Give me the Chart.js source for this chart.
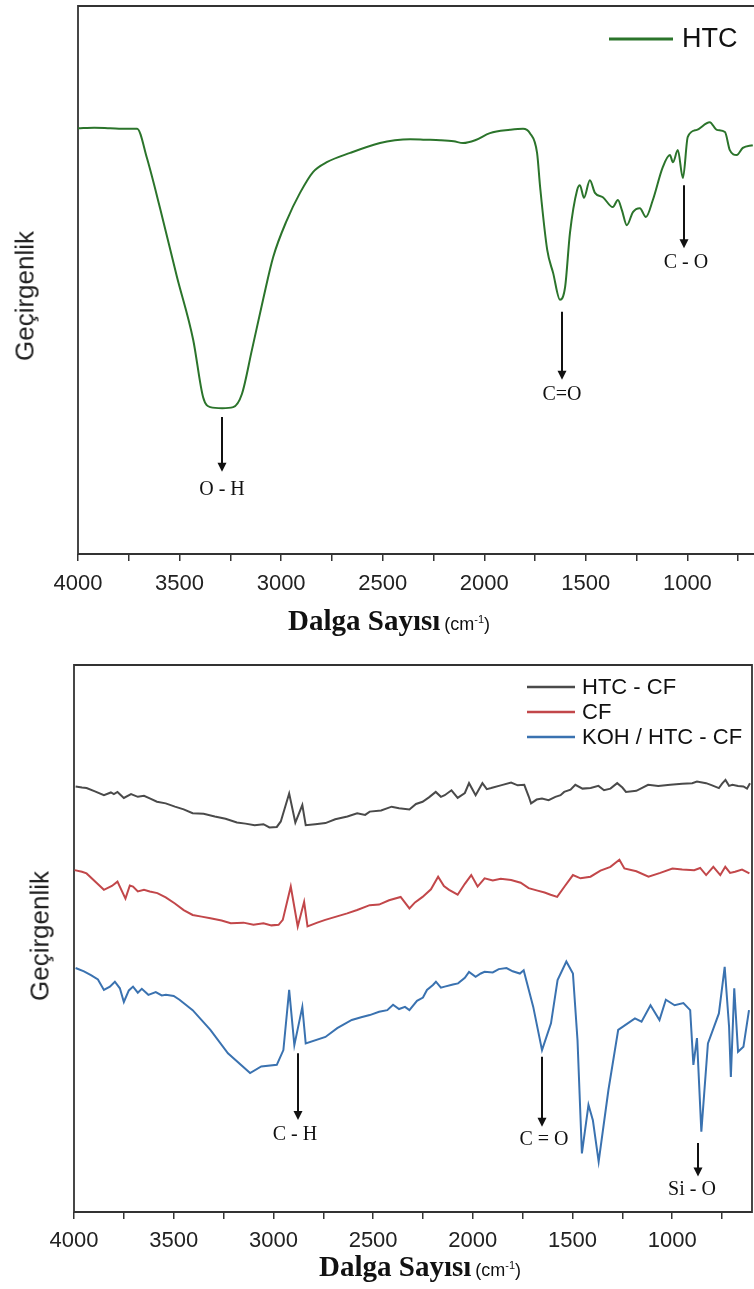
<!DOCTYPE html>
<html>
<head>
<meta charset="utf-8">
<title>FTIR</title>
<script src="https://cdn.jsdelivr.net/npm/chart.js@4.4.1/dist/chart.umd.min.js"></script>
<style>
  body { margin: 0; background: #fff; width: 754px; height: 1289px; position: relative; overflow: hidden; }
  .box { position: absolute; left: 0; width: 754px; }
  canvas { display: block; }
  .ytitle { position: absolute; font-family: "Liberation Sans", Arial, sans-serif; font-size: 26px; color: #222;
            white-space: nowrap; transform: translate(-50%, -50%) rotate(-90deg); }
  .xtitle { position: absolute; white-space: nowrap; color: #111; line-height: 29px; }
  .xtitle b { font-family: "Liberation Serif", "Times New Roman", serif; font-size: 29px; }
  .xtitle span { font-family: "Liberation Sans", Arial, sans-serif; font-size: 18px; margin-left: 4px; }
  .xtitle sup { font-size: 11px; }
</style>
</head>
<body>
<div class="box" style="top:0;height:640px"><canvas id="ftirHtc" width="754" height="640"></canvas></div>
<div class="box" style="top:640px;height:649px"><canvas id="ftirCf" width="754" height="649"></canvas></div>
<div class="ytitle" style="left:25px;top:296px">Geçirgenlik</div>
<div class="ytitle" style="left:40px;top:936px">Geçirgenlik</div>
<div class="xtitle" style="left:288px;top:605px"><b>Dalga Sayısı</b><span>(cm<sup>-1</sup>)</span></div>
<div class="xtitle" style="left:319px;top:1251px"><b>Dalga Sayısı</b><span>(cm<sup>-1</sup>)</span></div>
<script>
// wavenumber ticks (cm-1); only the 500 steps get a label
const tickWn = [750, 1000, 1250, 1500, 1750, 2000, 2250, 2500, 2750, 3000, 3250, 3500, 3750, 4000];

// HTC spectrum (transmittance, a.u.)
const wnHTC = [4000, 3920, 3842, 3760, 3709, 3661, 3596, 3513, 3433, 3384, 3349, 3290, 3236, 3193, 3144, 3089, 3039, 2972, 2907, 2843,
  2775, 2660, 2513, 2440, 2365, 2290, 2217, 2150, 2104, 2045, 1972, 1873, 1809, 1775, 1740, 1725, 1690, 1661, 1627, 1602,
  1578, 1543, 1529, 1509, 1480, 1455, 1416, 1367, 1342, 1322, 1298, 1268, 1234, 1204, 1170, 1121, 1086, 1071, 1047, 1022,
  998, 953, 890, 855, 815, 791, 757, 727, 678];
const tHTC = [77.7, 77.8, 77.7, 77.6, 77.6, 72.3, 63.1, 50.6, 39.1, 28.6, 26.8, 26.6, 26.8, 29.2, 37.2, 46.4, 54.2, 60.9, 65.9, 69.7,
  71.5, 73.2, 75.0, 75.5, 75.7, 75.6, 75.5, 75.3, 75.0, 75.5, 76.8, 77.4, 77.6, 76.8, 73.2, 67.0, 55.5, 51.3, 46.4, 48.7,
  58.6, 66.4, 67.3, 65.0, 68.2, 65.9, 65.1, 63.3, 64.6, 62.7, 60.0, 62.4, 63.1, 61.5, 64.6, 70.6, 72.8, 71.5, 73.7, 68.6,
  76.1, 77.4, 78.8, 77.4, 77.0, 73.7, 72.8, 74.1, 74.6];

// HTC - CF
const wnHTCCF = [3992, 3960, 3937, 3895, 3850, 3815, 3800, 3782, 3750, 3714, 3680, 3649, 3620, 3584, 3540, 3494, 3450, 3405, 3350, 3294,
  3240, 3183, 3140, 3094, 3050, 3020, 2983, 2963, 2921, 2890, 2855, 2838, 2790, 2739, 2690, 2629, 2580, 2540, 2517, 2460,
  2407, 2370, 2318, 2285, 2252, 2220, 2186, 2160, 2141, 2107, 2076, 2040, 2019, 1986, 1952, 1930, 1908, 1860, 1808, 1775,
  1742, 1720, 1708, 1680, 1653, 1620, 1586, 1560, 1542, 1510, 1486, 1450, 1409, 1370, 1342, 1310, 1276, 1250, 1232, 1180,
  1121, 1070, 1010, 950, 900, 876, 830, 800, 766, 750, 733, 715, 698, 670, 643, 625, 610];
const tHTCCF = [77.8, 77.6, 77.5, 76.9, 76.2, 76.7, 76.4, 76.8, 75.7, 76.4, 75.9, 76.1, 75.6, 75.0, 74.7, 74.1, 73.6, 72.9, 72.8, 72.3,
  71.9, 71.2, 71.0, 70.7, 70.9, 70.3, 70.4, 71.4, 76.5, 71.2, 74.4, 70.7, 70.9, 71.1, 71.8, 72.3, 72.9, 72.6, 73.2, 73.4,
  74.1, 73.8, 73.6, 74.6, 75.0, 75.8, 76.8, 75.9, 76.2, 77.1, 75.7, 76.6, 78.4, 76.2, 78.4, 77.3, 77.5, 78.0, 78.5, 78.0,
  78.1, 76.0, 74.7, 75.4, 75.6, 75.3, 75.9, 76.2, 76.8, 77.2, 78.1, 77.4, 77.5, 77.9, 77.1, 77.4, 78.4, 77.6, 76.8, 77.0,
  78.1, 77.9, 78.1, 78.3, 78.4, 78.7, 78.4, 78.0, 77.5, 78.3, 79.0, 77.9, 78.1, 77.9, 77.8, 77.4, 78.4];

// CF
const wnCF = [3997, 3960, 3937, 3890, 3850, 3810, 3782, 3742, 3720, 3704, 3680, 3649, 3620, 3582, 3540, 3494, 3450, 3405, 3360, 3316,
  3260, 3214, 3150, 3100, 3050, 3010, 2974, 2953, 2913, 2878, 2846, 2829, 2780, 2740, 2685, 2630, 2580, 2517, 2470, 2420,
  2362, 2318, 2290, 2252, 2210, 2174, 2145, 2119, 2076, 2040, 2008, 1976, 1941, 1900, 1860, 1808, 1760, 1720, 1680, 1640,
  1610, 1577, 1540, 1498, 1460, 1410, 1360, 1310, 1265, 1240, 1180, 1119, 1060, 999, 950, 890, 860, 830, 794, 759,
  734, 710, 685, 650, 613];
const tCF = [62.5, 62.2, 61.9, 60.3, 58.9, 59.6, 60.4, 57.3, 59.7, 59.5, 58.6, 58.9, 58.6, 58.3, 57.5, 56.4, 55.2, 54.3, 54.0, 53.7,
  53.3, 52.8, 52.9, 52.5, 52.8, 52.4, 52.5, 53.4, 59.5, 52.2, 56.7, 52.2, 52.9, 53.4, 54.0, 54.6, 55.2, 56.1, 56.2, 57.0,
  57.6, 55.5, 56.6, 57.6, 59.0, 61.3, 59.6, 58.9, 58.0, 60.0, 61.6, 59.5, 61.0, 60.6, 60.9, 60.7, 60.2, 59.2, 58.8, 58.4,
  58.0, 57.6, 59.5, 61.6, 61.0, 61.3, 62.4, 63.1, 64.4, 62.8, 62.3, 61.3, 62.0, 62.8, 62.6, 62.5, 62.9, 61.6, 63.1, 61.6,
  63.1, 62.0, 62.2, 62.6, 61.9];

// KOH / HTC - CF
const wnKOH = [3992, 3950, 3915, 3880, 3850, 3820, 3795, 3770, 3750, 3725, 3704, 3680, 3660, 3627, 3590, 3560, 3539, 3500, 3471, 3405,
  3316, 3228, 3117, 3061, 2983, 2950, 2921, 2895, 2855, 2838, 2739, 2680, 2607, 2560, 2517, 2470, 2429, 2400, 2370, 2340,
  2318, 2280, 2250, 2230, 2200, 2185, 2160, 2141, 2100, 2074, 2040, 2019, 1986, 1960, 1941, 1900, 1870, 1831, 1800, 1764,
  1745, 1730, 1697, 1653, 1608, 1575, 1531, 1498, 1475, 1453, 1420, 1398, 1369, 1320, 1271, 1187, 1154, 1109, 1064, 1032,
  988, 944, 910, 894, 876, 854, 821, 766, 737, 715, 706, 689, 670, 643, 615];
const tKOH = [44.6, 44.0, 43.3, 42.5, 40.6, 41.2, 42.1, 40.9, 38.4, 40.5, 41.2, 40.1, 40.8, 39.7, 40.2, 39.6, 39.7, 39.5, 38.8, 36.9,
  33.3, 29.0, 25.4, 26.6, 26.9, 29.6, 40.6, 30.5, 37.5, 30.8, 32.0, 33.6, 35.1, 35.6, 36.0, 36.6, 36.9, 37.9, 37.1, 37.5,
  36.9, 38.6, 39.2, 40.6, 41.5, 42.1, 41.0, 41.2, 41.6, 41.8, 42.8, 43.9, 43.0, 43.6, 43.9, 43.8, 44.4, 44.6, 44.0, 43.6,
  44.2, 42.1, 37.5, 29.6, 34.5, 42.4, 45.8, 43.6, 31.4, 10.7, 19.6, 16.8, 9.2, 22.3, 33.3, 35.4, 34.8, 37.8, 35.1, 38.8,
  37.8, 38.2, 36.9, 26.9, 31.8, 14.7, 30.8, 36.3, 44.8, 33.9, 24.7, 40.9, 29.3, 30.2, 36.9];

// band assignments: arrow from -> to (transmittance), label centred at labelAt
const bandsHTC = [
  { wn: 3290, from: 25.0, to: 15.0, labelAt: 11.7, text: 'O - H', dx: 0 },
  { wn: 1615, from: 44.2, to: 31.8, labelAt: 29.0, text: 'C=O', dx: 0 },
  { wn: 1015, from: 67.3, to: 55.8, labelAt: 53.1, text: 'C - O', dx: 2 }
];
const bandsCF = [
  { wn: 2879, from: 29.0, to: 16.8, labelAt: 14.1, text: 'C - H', dx: -3 },
  { wn: 1653, from: 28.4, to: 15.6, labelAt: 13.2, text: 'C = O', dx: 2 },
  { wn: 872, from: 12.6, to: 6.5, labelAt: 4.0, text: 'Si - O', dx: -6 }
];

function spectrum(wn, t) {
  return wn.map((x, i) => ({ x: x, y: t[i] }));
}

const framePlugin = {
  id: 'frame',
  beforeDatasetsDraw(chart, args, opts) {
    const { ctx, chartArea: a } = chart;
    ctx.save();
    ctx.strokeStyle = '#333';
    ctx.lineWidth = 1.8;
    ctx.beginPath();
    if (opts.closed) {
      ctx.rect(a.left, a.top, a.right - a.left, a.bottom - a.top);
    } else {
      ctx.moveTo(a.right + 2, a.top);
      ctx.lineTo(a.left, a.top);
      ctx.lineTo(a.left, a.bottom);
      ctx.lineTo(a.right + 2, a.bottom);
    }
    ctx.stroke();
    ctx.restore();
  }
};

const bandPlugin = {
  id: 'bands',
  afterDatasetsDraw(chart, args, opts) {
    const { ctx, scales: { x, y } } = chart;
    ctx.save();
    ctx.strokeStyle = '#111';
    ctx.fillStyle = '#111';
    ctx.lineWidth = 2;
    ctx.font = '20px "Liberation Serif", "Times New Roman", serif';
    ctx.textAlign = 'center';
    ctx.textBaseline = 'middle';
    opts.items.forEach(b => {
      const px = Math.round(x.getPixelForValue(b.wn));
      const y1 = y.getPixelForValue(b.from);
      const y2 = y.getPixelForValue(b.to);
      ctx.beginPath();
      ctx.moveTo(px, y1);
      ctx.lineTo(px, y2 - 8);
      ctx.stroke();
      ctx.beginPath();
      ctx.moveTo(px - 4.5, y2 - 9);
      ctx.lineTo(px + 4.5, y2 - 9);
      ctx.lineTo(px, y2);
      ctx.closePath();
      ctx.fill();
      ctx.fillText(b.text, px + b.dx, y.getPixelForValue(b.labelAt));
    });
    ctx.restore();
  }
};

const keyPlugin = {
  id: 'key',
  afterDraw(chart, args, opts) {
    const ctx = chart.ctx;
    ctx.save();
    ctx.font = opts.size + 'px "Liberation Sans", Arial, sans-serif';
    ctx.textBaseline = 'middle';
    chart.data.datasets.forEach((ds, i) => {
      const yy = opts.y + i * opts.row;
      ctx.strokeStyle = ds.borderColor;
      ctx.lineWidth = opts.lw;
      ctx.beginPath();
      ctx.moveTo(opts.x, yy);
      ctx.lineTo(opts.x + opts.len, yy);
      ctx.stroke();
      ctx.fillStyle = '#111';
      ctx.fillText(ds.label, opts.x + opts.len + opts.gap, yy + 1);
    });
    ctx.restore();
  }
};

function wnAxis(min, height, pad) {
  return {
    type: 'linear',
    reverse: true,
    min: min,
    max: 4000,
    afterBuildTicks: s => { s.ticks = tickWn.map(v => ({ value: v })); },
    afterFit: s => { s.height = height; s.paddingLeft = 0; s.paddingRight = 0; },
    border: { display: false },
    grid: { drawOnChartArea: false, drawTicks: true, tickLength: 7, color: '#333', lineWidth: 1.5 },
    ticks: {
      autoSkip: false,
      maxRotation: 0,
      padding: pad,
      color: '#222',
      font: { family: '"Liberation Sans", Arial, sans-serif', size: 22 },
      callback: v => (v % 500 === 0 ? String(v) : '')
    }
  };
}

function line(label, data, color, smooth) {
  return {
    label: label, data: data, borderColor: color, borderWidth: 2, pointRadius: 0, fill: false,
    tension: smooth ? 0.4 : 0, cubicInterpolationMode: smooth ? 'monotone' : 'default'
  };
}

new Chart(document.getElementById('ftirHtc'), {
  type: 'line',
  data: { datasets: [line('HTC', spectrum(wnHTC, tHTC), '#2b742b', true)] },
  options: {
    responsive: false,
    animation: false,
    layout: { padding: { left: 78, top: 6, right: 0, bottom: 0 } },
    plugins: {
      legend: { display: false },
      tooltip: { enabled: false },
      frame: { closed: false },
      bands: { items: bandsHTC },
      key: { x: 609, y: 39, row: 0, len: 64, gap: 9, size: 27, lw: 3 }
    },
    scales: {
      x: wnAxis(672, 86, 10),
      y: { display: false, min: 0, max: 100 }
    }
  },
  plugins: [framePlugin, bandPlugin, keyPlugin]
});

new Chart(document.getElementById('ftirCf'), {
  type: 'line',
  data: {
    datasets: [
      line('HTC - CF', spectrum(wnHTCCF, tHTCCF), '#4a4a4a', false),
      line('CF', spectrum(wnCF, tCF), '#c2474a', false),
      line('KOH / HTC - CF', spectrum(wnKOH, tKOH), '#3a72b0', false)
    ]
  },
  options: {
    responsive: false,
    animation: false,
    layout: { padding: { left: 74, top: 25, right: 2, bottom: 0 } },
    plugins: {
      legend: { display: false },
      tooltip: { enabled: false },
      frame: { closed: true },
      bands: { items: bandsCF },
      key: { x: 527, y: 47, row: 25, len: 48, gap: 7, size: 22, lw: 2.5 }
    },
    scales: {
      x: wnAxis(600, 77, 9),
      y: { display: false, min: 0, max: 100 }
    }
  },
  plugins: [framePlugin, bandPlugin, keyPlugin]
});
</script>
</body>
</html>
